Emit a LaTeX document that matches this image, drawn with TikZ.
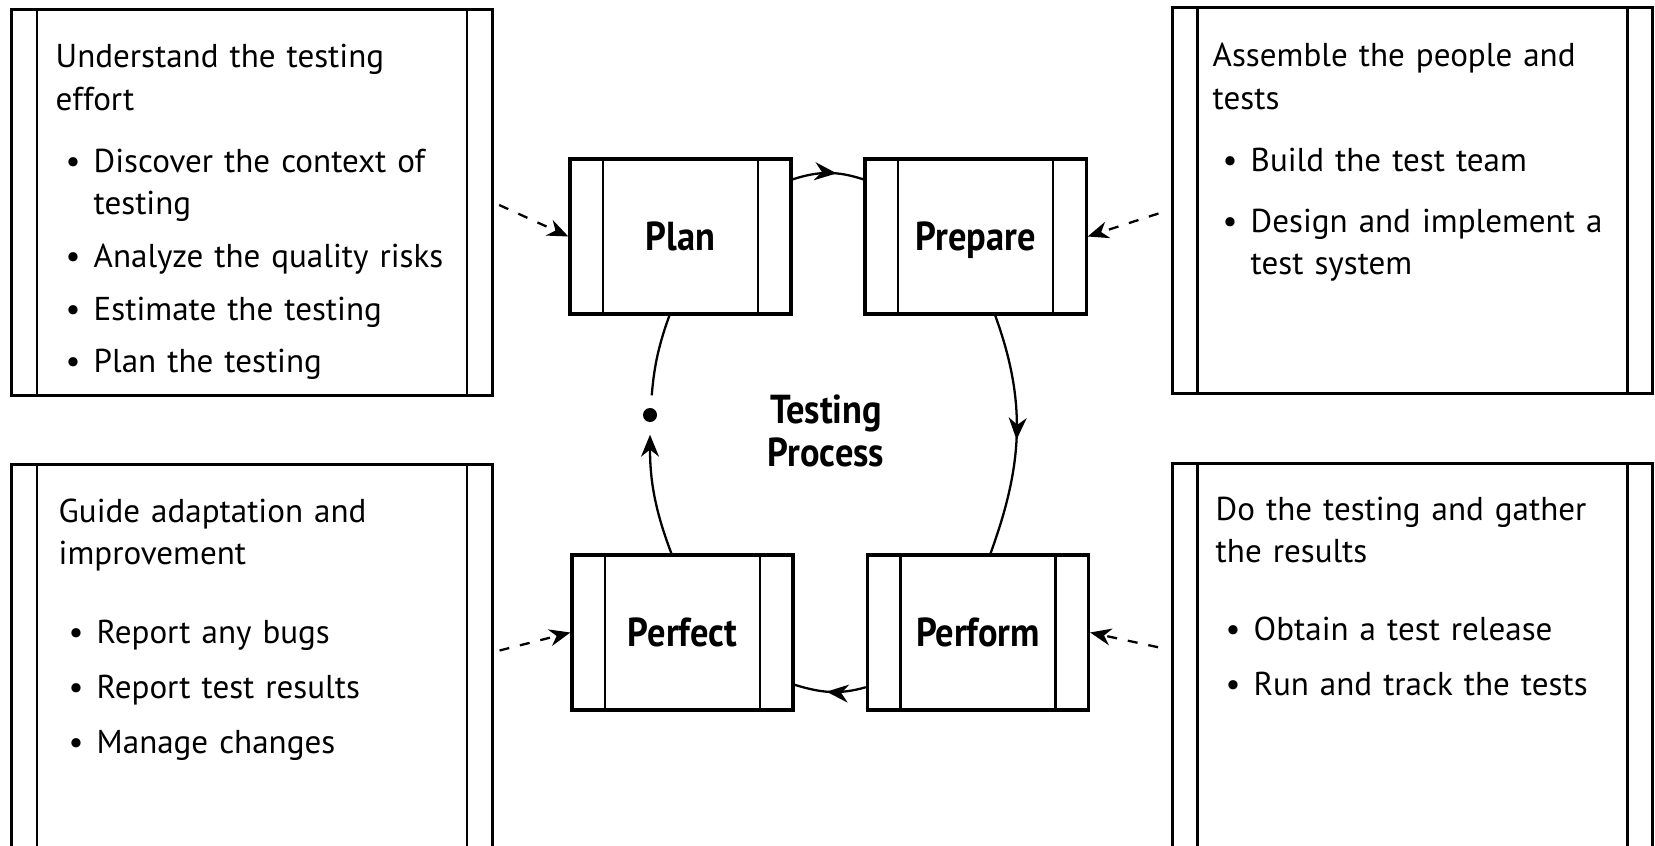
\documentclass[tikz,border=0pt]{standalone}
\usepackage{fontspec}
\setmainfont{PT Sans}
\newfontfamily\stagefont[FakeStretch=0.9]{PT Sans}
\usetikzlibrary{arrows.meta,decorations.markings}

\newcommand{\bul}{\hspace*{1mm}\makebox[2.8mm][l]{\textbullet}}
\newcommand{\blcont}{\hspace*{3.8mm}}

\tikzset{
  notebox/.style={draw, line width=0.9pt, minimum width=4.8cm, minimum height=#1,
    path picture={
      \draw[line width=0.75pt] ([xshift=2.5mm]path picture bounding box.north west) -- ([xshift=2.5mm]path picture bounding box.south west);
      \draw[line width=0.75pt] ([xshift=-2.5mm]path picture bounding box.north east) -- ([xshift=-2.5mm]path picture bounding box.south east);}},
  stagebox/.style={draw, line width=0.9pt, minimum width=2.21cm, minimum height=1.55cm,
    text height=0.28cm, text depth=0pt, font=\stagefont\fontsize{11.5}{13}\selectfont\bfseries,
    path picture={
      \draw[line width=0.75pt] ([xshift=3.3mm]path picture bounding box.north west) -- ([xshift=3.3mm]path picture bounding box.south west);
      \draw[line width=0.75pt] ([xshift=-3.3mm]path picture bounding box.north east) -- ([xshift=-3.3mm]path picture bounding box.south east);}},
  notes/.style={anchor=base west, inner sep=0pt, text width=4.3cm, align=left,
    font=\fontsize{9.4}{11.95}\selectfont},
  flow/.style={line width=0.65pt},
  midarrow/.style={postaction={decorate, decoration={markings,
    mark=at position #1 with {\arrow{Stealth[length=2.2mm,width=1.8mm]}}}}},
  dashflow/.style={line width=0.65pt, dash pattern=on 1mm off 1.1mm,
    -{Stealth[length=2.1mm,width=1.7mm]}}
}

\begin{document}
\begin{tikzpicture}[x=0.01cm,y=0.01cm]
\useasboundingbox (0,0) rectangle (1655,-846);
\clip (0,0) rectangle (1655,-846);

% four stages
\node[stagebox] (plan) at (680.5,-236.5) {Plan};
\node[stagebox] (prepare) at (975.5,-236.5) {Prepare};
\node[stagebox] (perfect) at (682.5,-632.5) {Perfect};
\node[stagebox] (perform) at (978,-632.5) {Perform};

\node[align=center, text width=2cm, inner sep=0pt, anchor=base,
  font=\stagefont\fontsize{11.5}{12.4}\selectfont\bfseries] (process) at (826,-423) {Testing\\Process};

% side notes
\node[notebox=3.85cm] (plannote) at (252,-202.5) {};
\node[notebox=3.85cm] (preparenote) at (1412.5,-200.5) {};
\node[notebox=4.2cm] (perfectnote) at (252,-675) {};
\node[notebox=4.2cm] (performnote) at (1412.5,-674) {};

\node[notes] (plantext) at (55,-68) {Understand the testing\\
effort\\[2mm]
\bul Discover the context of\\
\blcont testing\\[1.1mm]
\bul Analyze the quality risks\\[1.1mm]
\bul Estimate the testing\\[1mm]
\bul Plan the testing};

\node[notes] (preparetext) at (1212,-67) {Assemble the people and\\
tests\\[2mm]
\bul Build the test team\\[1.9mm]
\bul Design and implement a\\
\blcont test system};

\node[notes] (perfecttext) at (58,-522) {Guide adaptation and\\
improvement\\[3.7mm]
\bul Report any bugs\\[1.3mm]
\bul Report test results\\[1.3mm]
\bul Manage changes};

\node[notes] (performtext) at (1215,-520) {Do the testing and gather\\
the results\\[3.6mm]
\bul Obtain a test release\\[1.3mm]
\bul Run and track the tests};

% cycle
\node[circle, fill, inner sep=0pt, minimum size=1.4mm] (start) at (650,-415) {};
\draw[flow, midarrow=0.62] (plan.27) to[out=18, in=162] (prepare.153);
\draw[flow, midarrow=0.52] (prepare.-76) to[out=-70, in=70] (perform.81);
\draw[flow, midarrow=0.55] (perform.206) to[out=-164, in=-17] (perfect.-25);
\draw[flow, -{Stealth[length=2.2mm,width=1.8mm]}, shorten >=1.2mm] (perfect.98) to[out=111, in=-90] (start);
\draw[flow, shorten >=1.2mm] (plan.-98) to[out=-110, in=85] (start);

% notes to stages
\draw[dashflow, shorten <=0.6mm] (plannote.east) -- (plan.west);
\draw[dashflow, shorten <=1.3mm] ([yshift=-0.9mm]preparenote.west) -- (prepare.east);
\draw[dashflow, shorten <=0.6mm] ([yshift=2.3mm]perfectnote.east) -- (perfect.west);
\draw[dashflow, shorten <=1.3mm] ([yshift=2.4mm]performnote.west) -- (perform.east);
\end{tikzpicture}
\end{document}
